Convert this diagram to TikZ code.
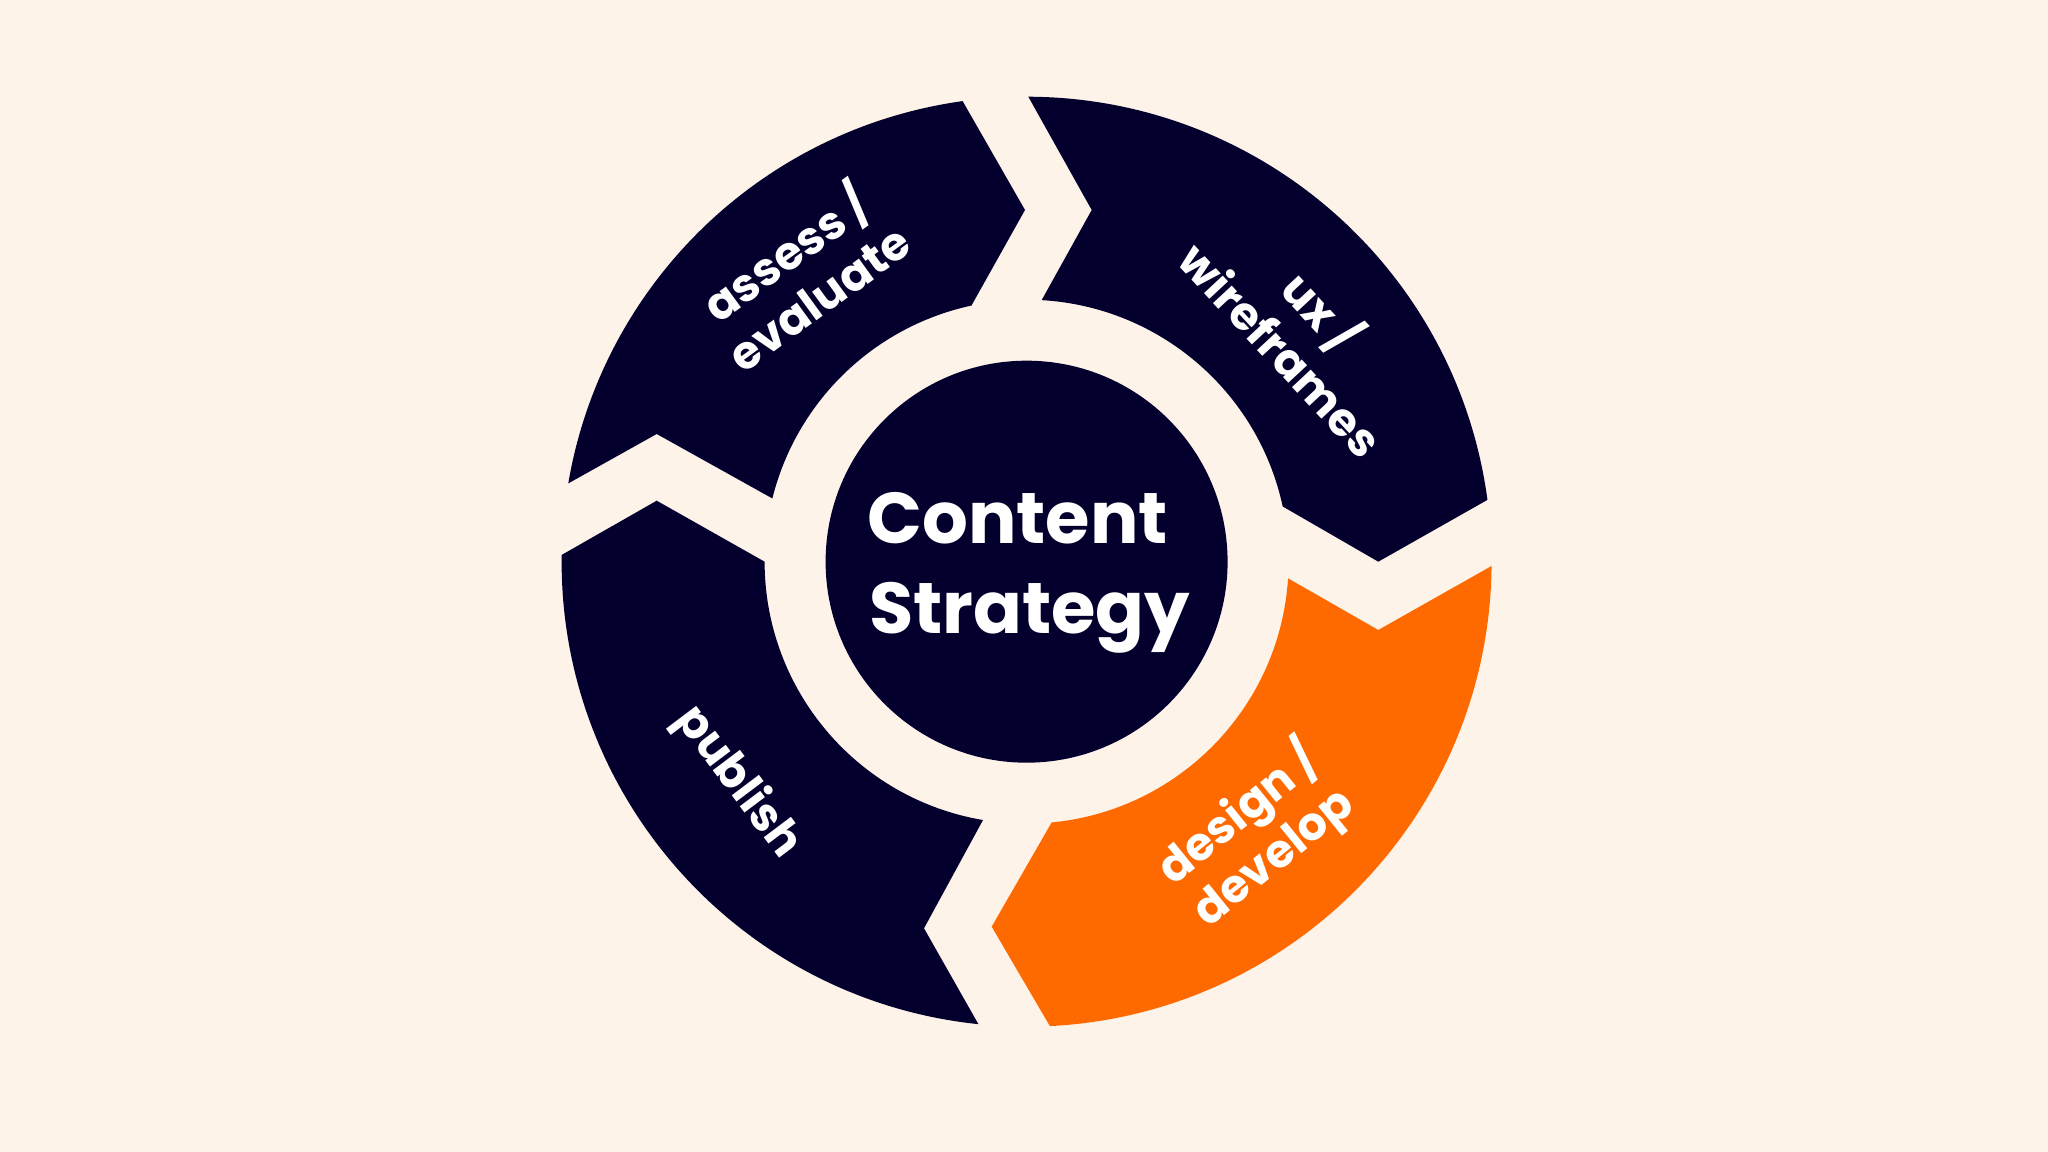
\documentclass[tikz,border=0pt]{standalone}
\usepackage{fontspec}
\setmainfont{Poppins}[Kerning=Off]
\definecolor{bg}{HTML}{FDF3E9}
\definecolor{navy}{HTML}{03002E}
\definecolor{orng}{HTML}{FF6A00}
\begin{document}
\begin{tikzpicture}[x=0.25pt,y=0.25pt,
  seg/.style={fill=navy, draw=none},
  hot/.style={fill=orng, draw=none},
  lbl/.style={text=white, font=\fontsize{11.5}{13.75}\selectfont\bfseries, align=center, inner sep=0pt},
  ctr/.style={text=white, font=\fontsize{18}{22.5}\selectfont\bfseries, inner sep=0pt, anchor=base west}]
\fill[bg] (0,0) rectangle (2048,-1152);
\useasboundingbox (0,0) rectangle (2048,-1152);
\begin{scope}[shift={(1026.6,-561.7)}]
  % assess / evaluate
  \fill[seg] (170.31:465) arc[start angle=170.31, end angle=97.91, radius=465]
    -- (-1.6,351.7) -- (102.15:262) arc[start angle=102.15, end angle=166.03, radius=262]
    -- (-369.9,127.7) -- cycle;
  % ux / wireframes
  \fill[seg] (89.79:465) arc[start angle=89.79, end angle=7.64, radius=465]
    -- (351.7,0) -- (12.17:262) arc[start angle=12.17, end angle=86.70, radius=262]
    -- (65.1,351.7) -- cycle;
  % design / develop
  \fill[hot] (-0.53:465) arc[start angle=-0.53, end angle=-87.13, radius=465]
    -- (-34.9,-365) -- (-84.52:262) arc[start angle=-84.52, end angle=-3.65, radius=262]
    -- (351.7,-68.3) -- cycle;
  % publish
  \fill[seg] (-95.95:465) arc[start angle=-95.95, end angle=-180.83, radius=465]
    -- (-369.9,61.0) -- (-180:262) arc[start angle=-180, end angle=-99.58, radius=262]
    -- (-102.6,-366.6) -- cycle;
  % centre
  \node[circle, fill=navy, inner sep=0pt, minimum size=100.5pt] (core) at (0,0) {};
  \node[ctr] (content) at (-159.9,18.4) {Content};
  \node[ctr] (strategy) at (-158.3,-71.6) {Strategy};
  % labels
  \node[lbl, rotate=36] (assess) at (-226.6,289.2) {assess /\\evaluate};
  \node[lbl, rotate=-47] (ux) at (277.4,233.7) {ux /\\wireframes};
  \node[lbl, rotate=39] (design) at (228.7,-273.3) {design /\\develop};
  \node[lbl, rotate=-53] (publish) at (-289.1,-220.8) {publish};
\end{scope}
\end{tikzpicture}
\end{document}
